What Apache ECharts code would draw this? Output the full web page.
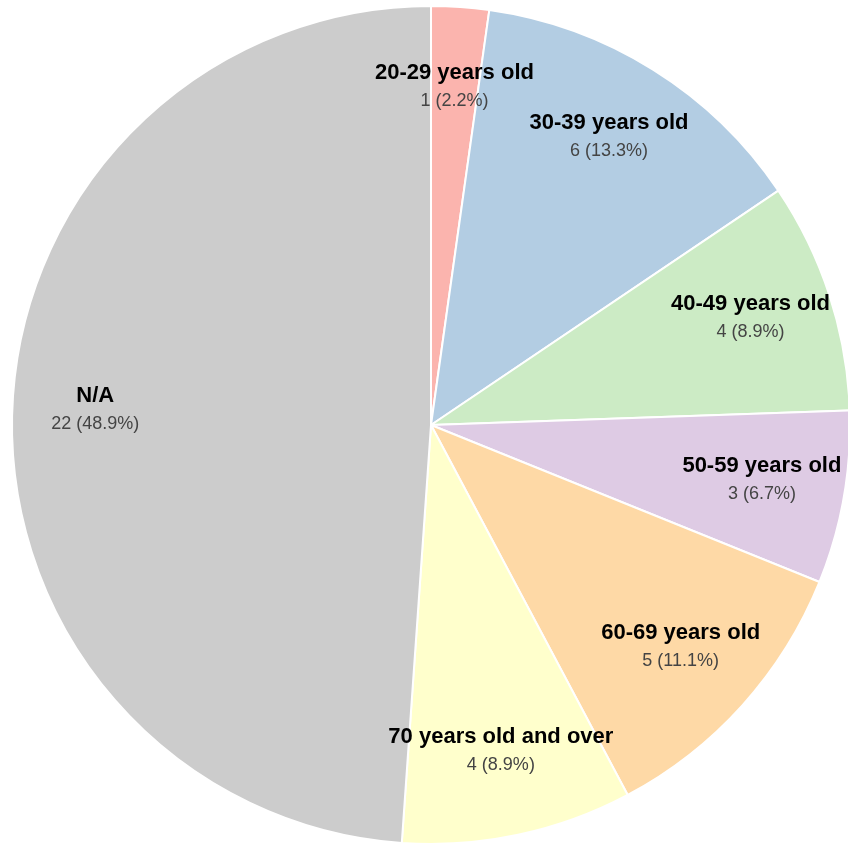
<!DOCTYPE html>
<html><head><meta charset="utf-8">
<script src="https://cdn.jsdelivr.net/npm/echarts@6/dist/echarts.min.js"></script>
<style>html,body{margin:0;padding:0;background:#fff}#c{width:848px;height:845px}</style>
</head><body><div id="c"></div>
<script>
const categories = ["20-29 years old","30-39 years old","40-49 years old","50-59 years old","60-69 years old","70 years old and over","N/A"];
const values = [1,6,4,3,5,4,22];
const colors = ["#fbb4ae","#b3cde3","#ccebc5","#decbe4","#fed9a6","#ffffcc","#cccccc"];
const total = values.reduce((a,b)=>a+b,0);
const data = categories.map((n,i)=>({name:n,value:values[i],itemStyle:{color:colors[i]}}));
const center = [431, 425];
const R = 419;
const chart = echarts.init(document.getElementById('c'));
chart.setOption({
  animation:false,
  series:[
    {type:'pie', center:center, radius:[0,R], startAngle:90, clockwise:true, silent:true,
     itemStyle:{borderColor:'#fff', borderWidth:2}, label:{show:false}, labelLine:{show:false},
     data:data},
    {type:'pie', center:center, radius:[247,R], startAngle:90, clockwise:true, silent:true,
     itemStyle:{color:'rgba(0,0,0,0)', borderWidth:0},
     label:{show:true, position:'inside', offset:[0,-3],
       formatter:p=>'{b|'+p.name+'}\n{c|'+p.value+' ('+(p.value/total*100).toFixed(1)+'%)}',
       rich:{
         b:{fontFamily:'Liberation Sans, Arial, sans-serif', fontWeight:'bold', fontSize:22, color:'#000', lineHeight:28},
         c:{fontFamily:'Liberation Sans, Arial, sans-serif', fontSize:18, color:'#444', lineHeight:28}
       }},
     labelLine:{show:false},
     data:categories.map((n,i)=>({name:n,value:values[i]}))}
  ]
});
</script></body></html>
